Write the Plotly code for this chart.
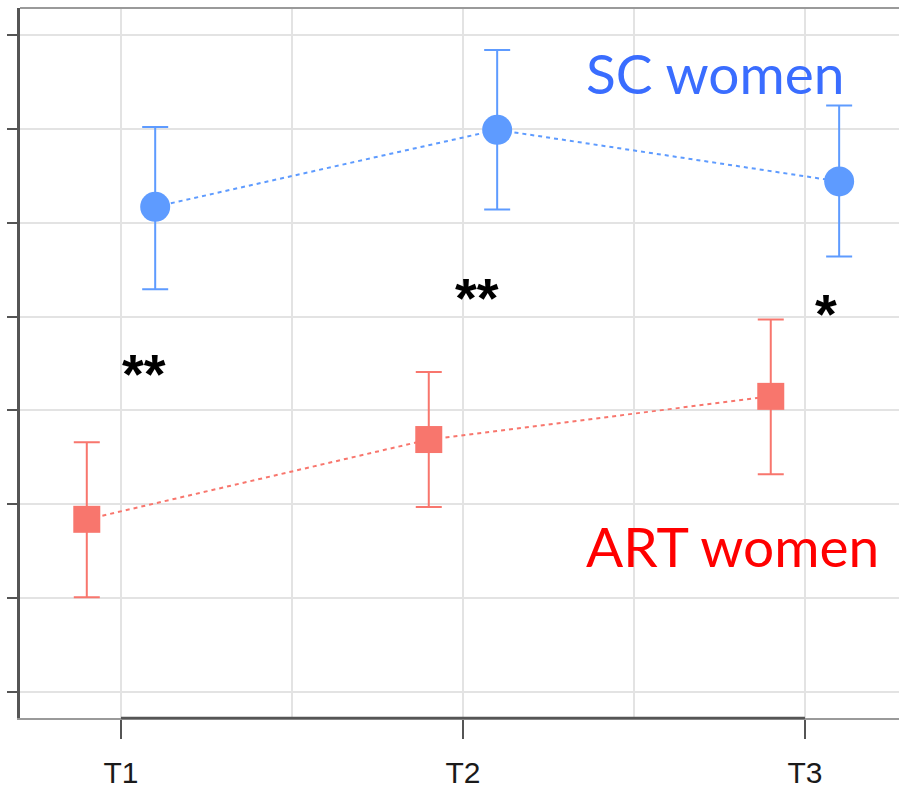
import plotly.graph_objects as go

# Time points and group summaries (mean with lower/upper interval bounds)
times = ["T1", "T2", "T3"]
sc_mean = [5.17, 5.99, 5.44]
sc_upper = [6.02, 6.84, 6.25]
sc_lower = [4.29, 5.14, 4.64]
art_mean = [1.84, 2.69, 3.15]
art_upper = [2.66, 3.41, 3.97]
art_lower = [1.01, 1.97, 2.32]

# Significance marks per time point
sig_labels = ["**", "**", "*"]

SC_COLOR = "#5E9BFF"
ART_COLOR = "#F8766D"
dodge = 0.1
pos = [i + 1 for i in range(len(times))]

fig = go.Figure()


def add_group(mean, lower, upper, offset, color, symbol, size):
    xs = [p + offset for p in pos]
    fig.add_trace(go.Scatter(
        x=xs, y=mean, mode="lines+markers",
        line=dict(color=color, width=2, dash="4px,4px"),
        marker=dict(color=color, symbol=symbol, size=size, line=dict(width=0)),
        error_y=dict(
            type="data", symmetric=False,
            array=[u - m for u, m in zip(upper, mean)],
            arrayminus=[m - l for m, l in zip(mean, lower)],
            color=color, thickness=2, width=13,
        ),
        showlegend=False, hoverinfo="skip",
    ))


add_group(sc_mean, sc_lower, sc_upper, dodge, SC_COLOR, "circle", 30)
add_group(art_mean, art_lower, art_upper, -dodge, ART_COLOR, "square", 27)

# Group labels
fig.add_annotation(x=2.737, y=6.60, text="SC women", showarrow=False,
                   font=dict(family="Lato", size=55, color="#3A6DFF"))
fig.add_annotation(x=2.789, y=1.56, text="ART women", showarrow=False,
                   font=dict(family="Lato", size=55, color="#FF0000"))

# Significance asterisks between the groups
sig_pos = [(1.067, 3.39), (2.041, 4.20), (3.061, 4.03)]
for lab, (sx, sy) in zip(sig_labels, sig_pos):
    fig.add_annotation(x=sx, y=sy, text="<b>" + lab + "</b>", showarrow=False,
                       font=dict(family="Liberation Sans", size=56, color="#000000"))

# Axis frame: dark segment between first and last time point on the x axis
fig.add_shape(type="line", xref="x", yref="paper", x0=1, x1=3, y0=0, y1=0,
              line=dict(color="#555555", width=2.5))
fig.add_shape(type="line", xref="paper", yref="paper", x0=0, x1=1, y0=1, y1=1,
              line=dict(color="#9A9A9A", width=2))

grid = "#E3E3E3"
fig.update_xaxes(
    range=[0.7047, 3.275], tickmode="array", tickvals=pos, ticktext=times,
    ticks="outside", ticklen=19, tickwidth=2, tickcolor="#555555",
    ticklabelstandoff=8,
    showline=True, linecolor="#9A9A9A", linewidth=2,
    showgrid=True, gridcolor=grid, gridwidth=1.5, zeroline=False,
    minor=dict(tickvals=[1.5, 2.5], showgrid=True, gridcolor=grid, gridwidth=1.5, ticks=""),
    tickfont=dict(family="Liberation Sans", size=30, color="#1A1A1A"),
)
fig.update_yaxes(
    range=[-0.277, 7.288], tickmode="array", tickvals=list(range(8)),
    showticklabels=False, ticks="outside", ticklen=10, tickwidth=2, tickcolor="#555555",
    showline=True, linecolor="#555555", linewidth=2.5,
    showgrid=True, gridcolor=grid, gridwidth=1.5, zeroline=False,
)

fig.update_layout(
    width=899, height=795,
    margin=dict(l=20, r=0, t=8, b=77),
    plot_bgcolor="white", paper_bgcolor="white",
)

fig.write_html("out.html")
